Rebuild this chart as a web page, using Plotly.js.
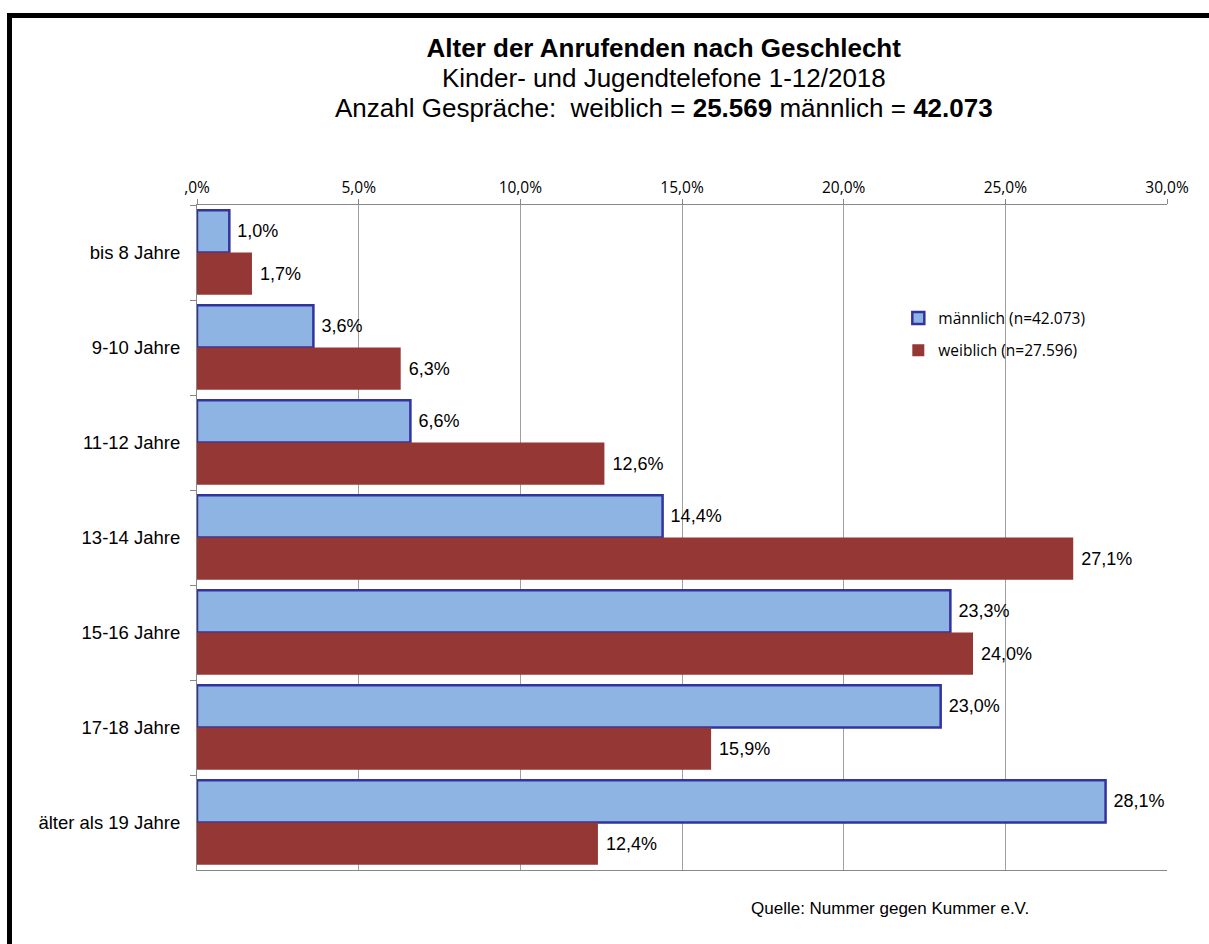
<!DOCTYPE html>
<html>
<head>
<meta charset="utf-8">
<script src="https://cdn.plot.ly/plotly-3.0.1.min.js"></script>
<style>
  body { margin: 0; background: #fff; overflow: hidden; }
  #frame { position: absolute; left: 7px; top: 13px; width: 1300px; height: 1000px;
           border-left: 5px solid #000; border-top: 5px solid #000; }
  #chart { position: absolute; left: 0; top: 0; width: 1209px; height: 944px; }
</style>
</head>
<body>
<div id="frame"></div>
<div id="chart"></div>
<script>
// age groups, top to bottom
var ageGroups = ['bis 8 Jahre', '9-10 Jahre', '11-12 Jahre', '13-14 Jahre',
                 '15-16 Jahre', '17-18 Jahre', 'älter als 19 Jahre'];
var maleShare = [1.0, 3.6, 6.6, 14.4, 23.3, 23.0, 28.1];
var femaleShare = [1.7, 6.3, 12.6, 27.1, 24.0, 15.9, 12.4];

var tickVals = [0, 5, 10, 15, 20, 25, 30];
var tickText = [',0%', '5,0%', '10,0%', '15,0%', '20,0%', '25,0%', '30,0%'];

var labelFont = { family: 'Liberation Sans, Arial', size: 18, color: '#000' };

var male = {
  type: 'bar',
  orientation: 'h',
  name: 'männlich (n=42.073)',
  y: ageGroups,
  x: maleShare,
  legendgroup: 'm',
  marker: { color: '#8EB4E3', line: { color: '#3333A0', width: 2.5 } },
  texttemplate: ' %{x:.1f}%',
  textposition: 'outside',
  cliponaxis: false,
  textfont: labelFont,
  hoverinfo: 'x+y'
};

var female = {
  type: 'bar',
  orientation: 'h',
  name: 'weiblich (n=27.596)',
  y: ageGroups,
  x: femaleShare,
  legendgroup: 'w',
  marker: { color: '#953735', line: { width: 0 } },
  texttemplate: ' %{x:.1f}%',
  textposition: 'outside',
  cliponaxis: false,
  textfont: labelFont,
  hoverinfo: 'x+y'
};

var data = [male, female];

var layout = {
  width: 1209,
  height: 944,
  separators: ',.',
  paper_bgcolor: 'rgba(0,0,0,0)',
  plot_bgcolor: '#fff',
  font: { family: 'Liberation Sans, Arial', color: '#000' },
  title: {
    text: '<b>Alter der Anrufenden nach Geschlecht</b>',
    font: { family: 'Liberation Sans, Arial', size: 26, color: '#000' },
    x: 0.549, xanchor: 'center', xref: 'container',
    y: 1 - 48 / 944, yanchor: 'middle', yref: 'container'
  },
  barmode: 'group',
  bargap: 0.11,
  bargroupgap: 0,
  margin: { l: 197, r: 42, t: 205, b: 74, pad: 0 },

  xaxis: {
    side: 'top',
    range: [0, 30],
    tickvals: tickVals,
    ticktext: tickText,
    tickfont: { family: 'Open Sans, Noto Sans', size: 15.5, color: '#000' },
    ticks: 'outside', ticklen: 5, tickcolor: '#888',
    showgrid: true, gridcolor: '#a0a0a0', gridwidth: 1,
    showline: true, linecolor: '#888', linewidth: 1, mirror: true,
    zeroline: false,
    fixedrange: true
  },

  yaxis: {
    type: 'category',
    autorange: 'reversed',
    tickson: 'boundaries',
    ticks: 'outside', ticklen: 6, tickcolor: '#888',
    tickfont: { family: 'Liberation Sans, Arial', size: 18.5, color: '#000' },
    ticklabelstandoff: 12,
    showgrid: false,
    showline: true, linecolor: '#888', linewidth: 1,
    fixedrange: true
  },

  showlegend: true,
  legend: {
    x: 0.723, xanchor: 'left',
    y: 0.855, yanchor: 'top',
    traceorder: 'grouped',
    tracegroupgap: 9,
    bgcolor: 'rgba(0,0,0,0)',
    font: { family: 'Open Sans, Noto Sans', size: 15.5, color: '#000' }
  },

  annotations: [
    {
      text: 'Kinder- und Jugendtelefone 1-12/2018',
      xref: 'paper', yref: 'paper',
      x: (664 - 197) / 970, y: (870 - 78) / 665,
      xanchor: 'center', yanchor: 'middle', showarrow: false,
      font: { family: 'Liberation Sans, Arial', size: 26, color: '#000' }
    },
    {
      text: 'Anzahl Gespräche:  weiblich = <b>25.569</b> männlich = <b>42.073</b>',
      xref: 'paper', yref: 'paper',
      x: (664 - 197) / 970, y: (870 - 108) / 665,
      xanchor: 'center', yanchor: 'middle', showarrow: false,
      font: { family: 'Liberation Sans, Arial', size: 26, color: '#000' }
    },
    {
      text: 'Quelle: Nummer gegen Kummer e.V.',
      xref: 'paper', yref: 'paper',
      x: (1031 - 197) / 970, y: (870 - 908) / 665,
      xanchor: 'right', yanchor: 'middle', showarrow: false,
      font: { family: 'Liberation Sans, Arial', size: 17, color: '#000' }
    }
  ]
};

Plotly.newPlot('chart', data, layout, { displayModeBar: false, staticPlot: true });
</script>
</body>
</html>
